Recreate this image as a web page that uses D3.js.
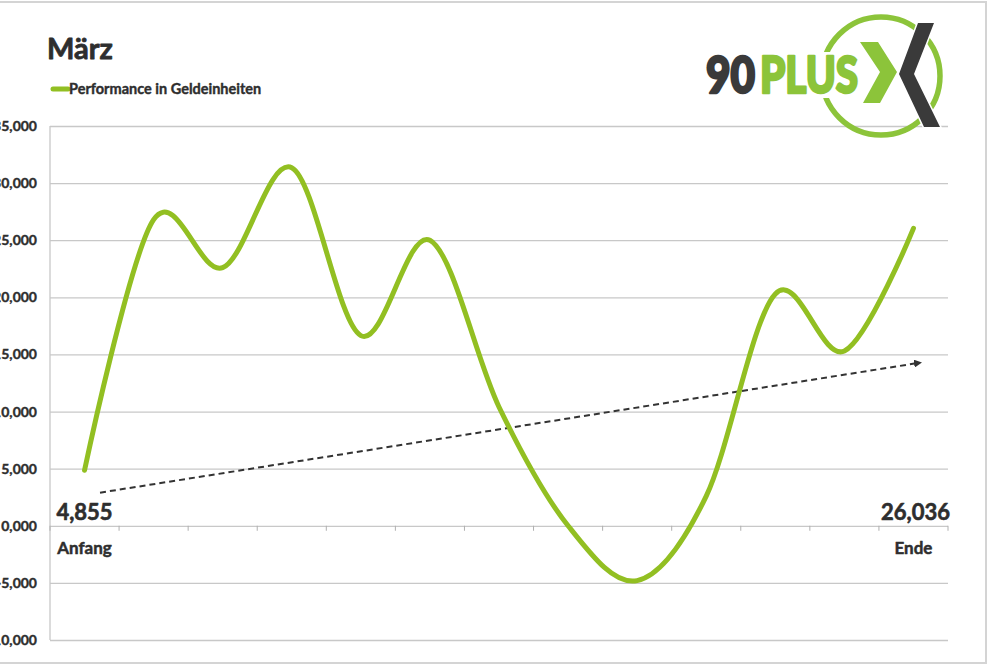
<!DOCTYPE html>
<html><head><meta charset="utf-8">
<script src="https://cdn.jsdelivr.net/npm/d3@7"></script>
<style>
html,body{margin:0;padding:0;background:#fff;}
svg{display:block;font-family:Lato,"Open Sans",sans-serif;}
</style></head>
<body>
<svg id="chart" width="1000" height="665"></svg>
<script>
// ---- data ----
const title = "März";
const seriesName = "Performance in Geldeinheiten";
const categoryLabels = ["Anfang","","","","","","","","","","","","Ende"];
const values = [4855, 26800, 22600, 31350, 16650, 25000, 10400, 0, -4800, 2600, 20300, 15300, 26036];
const yTicks = [35000, 30000, 25000, 20000, 15000, 10000, 5000, 0, -5000, -10000];
const yTickLabels = ["35,000","30,000","25,000","20,000","15,000","10,000","5,000","0,000","-5,000","-10,000"];
const startLabel = "4,855";
const endLabel = "26,036";
const trendIndex = [0.224, 12.066];
const trendValues = [2900, 14250];
const logoDark = "90";
const logoGreen = "PLUS";

// ---- setup ----
const svg = d3.select("#chart");
const green = "#92bf22";
const text = "#2e2e2e";
const gridC = "#c8c8c8";

const x = d3.scaleBand().domain(d3.range(categoryLabels.length)).range([50, 948]).padding(0);
const xc = d3.scaleLinear().domain([0, categoryLabels.length - 1])
  .range([x(0) + x.bandwidth()/2, x(categoryLabels.length-1) + x.bandwidth()/2]);
const y = d3.scaleLinear().domain([-10000, 35000]).range([640, 126]);

function heavy(sel, w){ return sel.attr("stroke", text).attr("stroke-width", w).attr("stroke-linejoin","round"); }

// outer frame
svg.append("path").attr("d", `M0,2H986V663H0`).attr("fill","none").attr("stroke","#d4d4d4").attr("stroke-width",2);

// gridlines + y labels
const yAxis = d3.axisLeft(y).tickValues(yTicks).tickSize(-(948-50)).tickFormat((d,i)=>yTickLabels[i]).tickPadding(13);
const gy = svg.append("g").attr("transform","translate(50,0)").call(yAxis);
gy.select(".domain").remove();
gy.selectAll(".tick line").attr("stroke", gridC).attr("stroke-width",1.3);
gy.selectAll(".tick text").attr("fill", text).attr("font-size",14).attr("font-weight",700)
  .attr("font-family","Lato,'Open Sans',sans-serif").attr("stroke",text).attr("stroke-width",0.4);
svg.append("line").attr("x1",50).attr("x2",50).attr("y1",y(35000)).attr("y2",y(-10000))
  .attr("stroke",gridC).attr("stroke-width",1.3);

// category axis at zero
const bounds = d3.range(categoryLabels.length + 1).map(i => i < categoryLabels.length ? x(i) : x(i-1) + x.bandwidth());
svg.append("g").selectAll("line").data(bounds).join("line")
  .attr("x1", d=>d).attr("x2", d=>d).attr("y1", y(0)).attr("y2", y(0)+5)
  .attr("stroke", "#b0b0b0").attr("stroke-width",1);
heavy(svg.append("g").selectAll("text").data(categoryLabels).join("text")
  .attr("x",(d,i)=>xc(i)).attr("y", y(0)+28).attr("text-anchor","middle")
  .attr("font-size",17).attr("font-weight",700).attr("fill",text).text(d=>d), 0.5);

// trend arrow
const defs = svg.append("defs");
defs.append("marker").attr("id","arr").attr("viewBox","0 0 10 10").attr("refX",5).attr("refY",5)
  .attr("markerWidth",4).attr("markerHeight",4).attr("orient","auto")
  .append("path").attr("d","M0,0L10,5L0,10z").attr("fill","#333");
svg.append("line")
  .attr("x1", xc(trendIndex[0])).attr("y1", y(trendValues[0]))
  .attr("x2", xc(trendIndex[1])).attr("y2", y(trendValues[1]))
  .attr("stroke","#333").attr("stroke-width",2).attr("stroke-dasharray","6,4")
  .attr("marker-end","url(#arr)");

// series line
const line = d3.line().x((d,i)=>xc(i)).y(d=>y(d)).curve(d3.curveCardinal.tension(0));
svg.append("path").datum(values).attr("d", line).attr("fill","none")
  .attr("stroke", green).attr("stroke-width",5).attr("stroke-linecap","round").attr("stroke-linejoin","round");

// start / end labels
heavy(svg.append("text").attr("x", xc(0)).attr("y", 520).attr("text-anchor","middle")
  .attr("font-size",22).attr("font-weight",700).attr("fill",text).text(startLabel), 0.6);
heavy(svg.append("text").attr("x", xc(values.length-1)+2).attr("y", 520).attr("text-anchor","middle")
  .attr("font-size",22).attr("font-weight",700).attr("fill",text).text(endLabel), 0.6);

// title & legend
heavy(svg.append("text").attr("x",47).attr("y",59).attr("font-size",29).attr("font-weight",700).attr("fill",text).text(title), 0.8);
svg.append("line").attr("x1",53).attr("x2",68).attr("y1",89).attr("y2",89)
  .attr("stroke",green).attr("stroke-width",5).attr("stroke-linecap","round");
heavy(svg.append("text").attr("x",69).attr("y",94).attr("font-size",14.5).attr("font-weight",700).attr("fill",text).text(seriesName), 0.4);

// logo
const logo = svg.append("g");
const lg = "#8cc43a";
logo.append("circle").attr("cx",881).attr("cy",76).attr("r",59).attr("fill","none").attr("stroke",lg).attr("stroke-width",5.5);
// white backing behind the word so the ring breaks around it
logo.append("rect").attr("x",815).attr("y",52).attr("width",46).attr("height",46).attr("fill","#fff");
function logoText(str, x0, len, col){
  logo.append("text").attr("x",x0).attr("y",93).attr("font-size",51).attr("font-weight",900)
    .attr("textLength",len).attr("lengthAdjust","spacingAndGlyphs")
    .attr("fill",col).attr("stroke",col).attr("stroke-width",2.6).attr("stroke-linejoin","round").text(str);
}
logoText(logoDark, 706, 49, "#3a3a3a");
logoText(logoGreen, 760, 98, lg);
logo.append("path").attr("d","M860,42L878,42L897,72L880,103L863,103L880,72Z").attr("fill",lg)
  .attr("stroke","#fff").attr("stroke-width",3).attr("paint-order","stroke");
logo.append("path").attr("d","M918,23L934,23L914,74L940,127L924,127L899,74Z").attr("fill","#3a3a3a")
  .attr("stroke","#fff").attr("stroke-width",3).attr("paint-order","stroke");
</script>
</body></html>
